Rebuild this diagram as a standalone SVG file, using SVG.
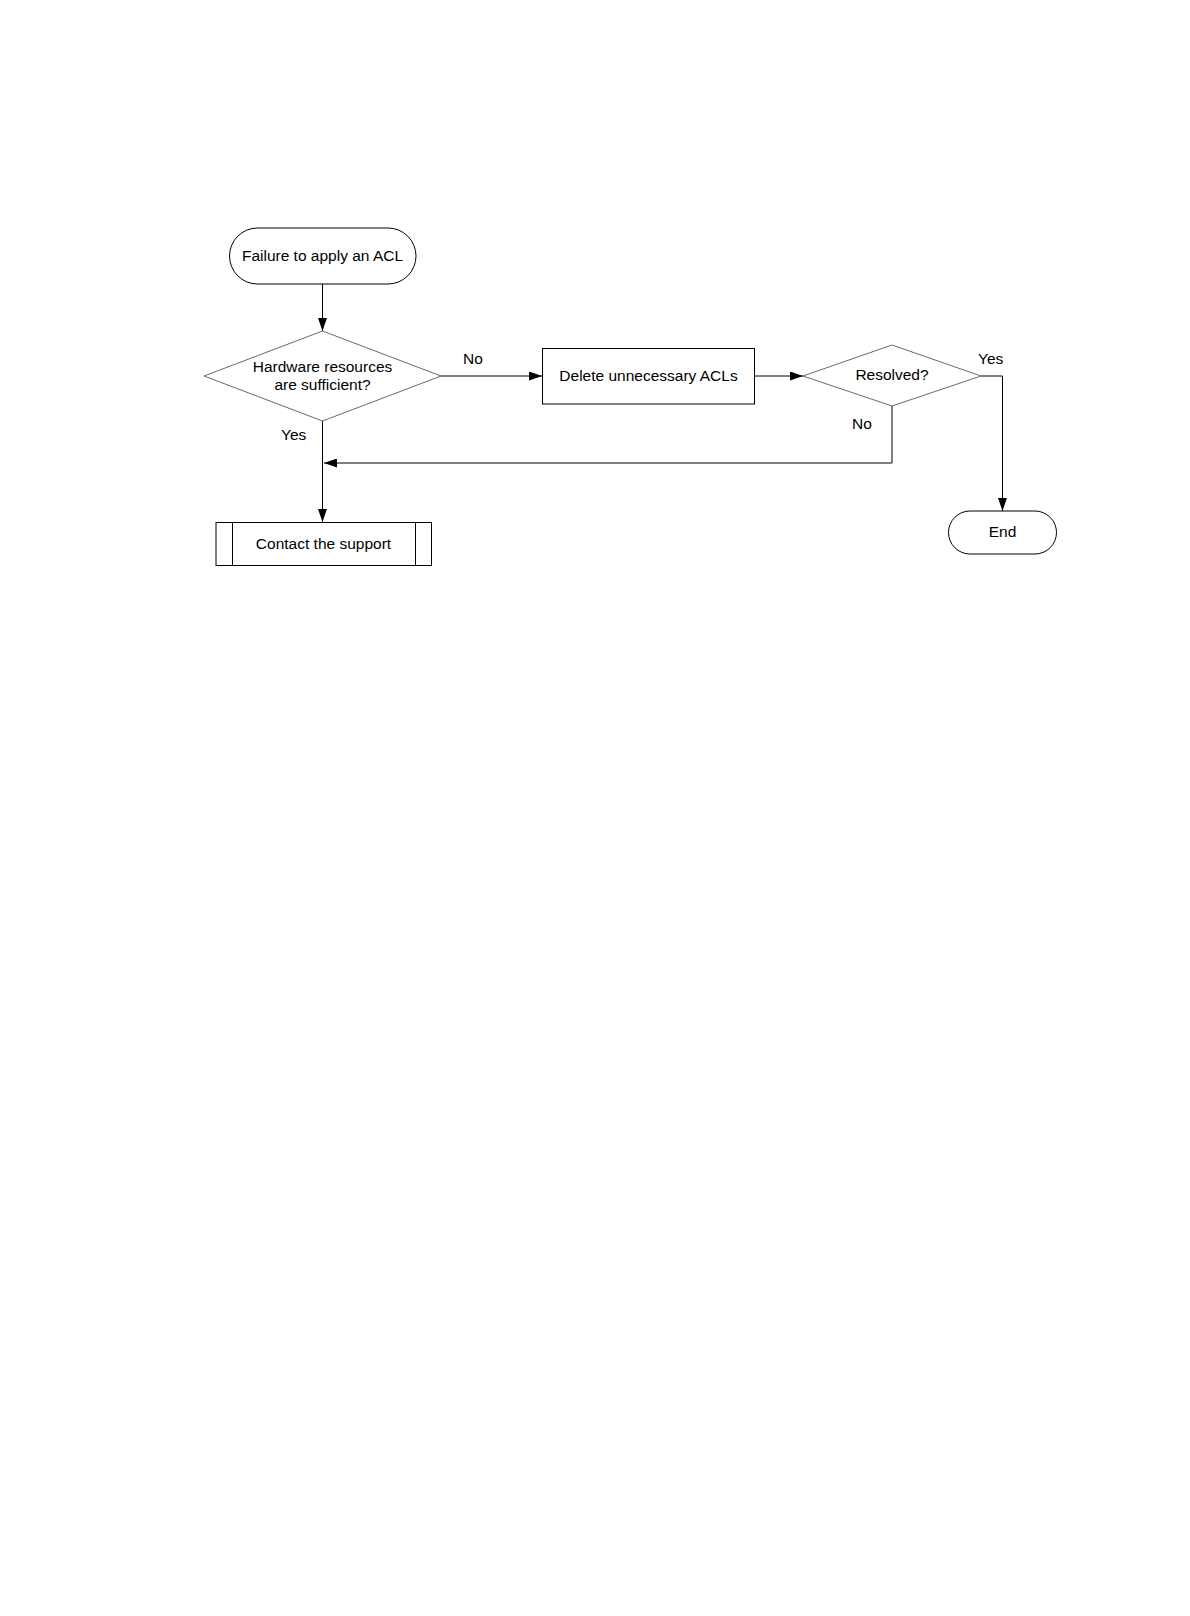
<svg xmlns="http://www.w3.org/2000/svg" width="1190" height="1616" viewBox="0 0 1190 1616">
<style>
text{font-family:"Liberation Sans",Arial,sans-serif;font-size:15.5px;fill:#000}
.c{text-anchor:middle}
.box{fill:#fff;stroke:#000;stroke-width:1}
.dia{fill:#fff;stroke:#444;stroke-width:0.8}
.ln{fill:none;stroke:#000;stroke-width:1}
</style>
<defs>
<marker id="ah" markerWidth="13" markerHeight="9" refX="13" refY="4.5" orient="auto" markerUnits="userSpaceOnUse">
<path d="M0,0 L13,4.5 L0,9 Z" fill="#000"/>
</marker>
</defs>
<rect width="1190" height="1616" fill="#fff"/>
<g id="connectors">
<line class="ln" x1="322.5" y1="284" x2="322.5" y2="331" marker-end="url(#ah)"/>
<line class="ln" x1="441" y1="376" x2="542" y2="376" marker-end="url(#ah)"/>
<line class="ln" x1="754" y1="376" x2="803" y2="376" marker-end="url(#ah)"/>
<polyline class="ln" points="981,376 1002.5,376 1002.5,511" marker-end="url(#ah)"/>
<polyline class="ln" points="892,406 892,463 324,463" marker-end="url(#ah)"/>
<line class="ln" x1="322.5" y1="421" x2="322.5" y2="522" marker-end="url(#ah)"/>
<text x="463" y="364">No</text>
<text x="978" y="364">Yes</text>
<text x="852" y="429">No</text>
<text x="281" y="440">Yes</text>
</g>
<g id="start">
<rect class="box" x="229.5" y="228" width="186.5" height="56" rx="28" ry="28"/>
<text class="c" x="322.5" y="261">Failure to apply an ACL</text>
</g>
<g id="hw-check">
<polygon class="dia" points="322.5,331 441,376 322.5,421 204,376"/>
<text class="c" x="322.5" y="372">Hardware resources</text>
<text class="c" x="322.5" y="390">are sufficient?</text>
</g>
<g id="delete">
<rect class="box" x="542.5" y="348.5" width="212" height="55.5"/>
<text class="c" x="648.5" y="381">Delete unnecessary ACLs</text>
</g>
<g id="resolved">
<polygon class="dia" points="892,345 981,376 892,406 803,376"/>
<text class="c" x="892" y="380">Resolved?</text>
</g>
<g id="end">
<rect class="box" x="948.5" y="511" width="108" height="43" rx="21.5" ry="21.5"/>
<text class="c" x="1002.5" y="537">End</text>
</g>
<g id="support">
<rect class="box" x="216" y="522.5" width="215.5" height="43"/>
<line class="ln" x1="232.5" y1="522.5" x2="232.5" y2="565.5"/>
<line class="ln" x1="415.5" y1="522.5" x2="415.5" y2="565.5"/>
<text class="c" x="323.5" y="548.5">Contact the support</text>
</g>
</svg>
